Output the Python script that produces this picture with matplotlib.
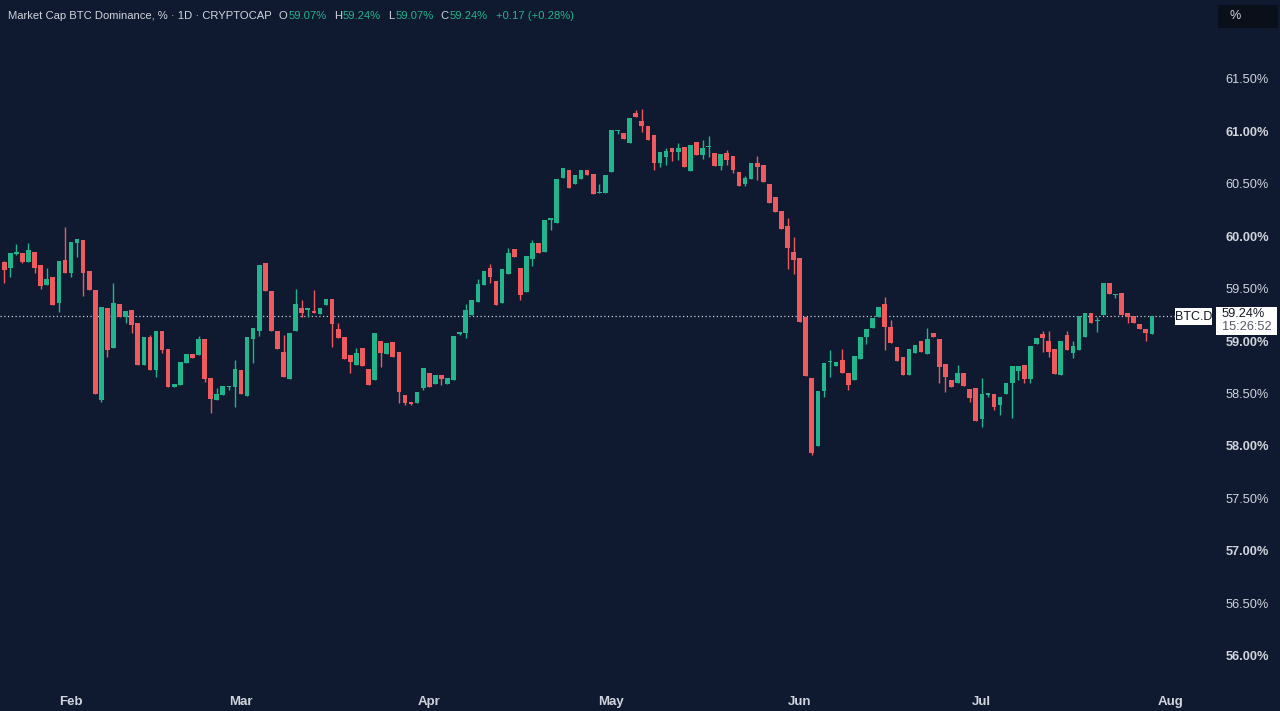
import matplotlib
matplotlib.use("Agg")
import matplotlib.pyplot as plt
import matplotlib.dates as mdates
from matplotlib.patches import Rectangle
import numpy as np
import pandas as pd

# daily candles, Jan 20 .. Jul 29
dates = pd.date_range("2025-01-20", periods=191, freq="D")

opens = [
    59.70, 59.75, 59.70, 59.83, 59.84, 59.75, 59.85, 59.72, 59.53, 59.61, 59.36,
    59.77, 59.65, 59.93, 59.96, 59.67, 59.49, 58.44, 59.31, 58.93, 59.35,
    59.23, 59.30, 59.17, 58.77, 59.04, 58.72, 59.10, 58.92, 58.56, 58.58,
    58.79, 58.88, 58.87, 59.02, 58.65, 58.44, 58.49, 58.56, 58.56, 58.72,
    58.48, 59.02, 59.10, 59.74, 59.48, 59.10, 58.90, 58.64, 59.10, 59.31,
    59.30, 59.28, 59.26, 59.34, 59.40, 59.11, 59.04, 58.87, 58.77, 58.93,
    58.73, 58.63, 59.00, 58.88, 58.99, 58.90, 58.49, 58.42, 58.41, 58.55,
    58.70, 58.59, 58.68, 58.59, 58.63, 59.07, 59.08, 59.25, 59.37, 59.53,
    59.70, 59.57, 59.36, 59.64, 59.88, 59.70, 59.47, 59.78, 59.93, 59.85,
    60.15, 60.12, 60.55, 60.63, 60.50, 60.54, 60.63, 60.59, 60.41, 60.41,
    60.61, 61.00, 60.98, 60.89, 61.17, 61.10, 61.05, 60.96, 60.70, 60.75,
    60.84, 60.80, 60.85, 60.62, 60.90, 60.77, 60.85, 60.79, 60.67, 60.79,
    60.76, 60.61, 60.50, 60.54, 60.70, 60.68, 60.50, 60.37, 60.24, 60.10,
    59.85, 59.79, 59.23, 58.65, 58.00, 58.52, 58.80, 58.76, 58.82, 58.70,
    58.63, 58.83, 59.04, 59.12, 59.23, 59.35, 59.13, 58.94, 58.85, 58.68,
    58.89, 59.00, 58.88, 59.08, 59.02, 58.78, 58.63, 58.60, 58.70, 58.54,
    58.55, 58.26, 58.49, 58.50, 58.39, 58.50, 58.60, 58.71, 58.77, 58.64,
    58.97, 59.07, 59.00, 58.92, 58.68, 59.06, 58.89, 58.91, 59.04, 59.27,
    59.19, 59.25, 59.55, 59.44, 59.46, 59.27, 59.24, 59.16, 59.11, 59.07,
]
highs = [
    59.75, 59.76, 59.84, 59.92, 59.84, 59.93, 59.85, 59.72, 59.70, 59.61, 59.76,
    60.09, 59.94, 59.97, 59.96, 59.67, 59.49, 59.32, 59.31, 59.55, 59.35,
    59.29, 59.30, 59.17, 59.04, 59.06, 59.10, 59.10, 58.92, 58.59, 58.80,
    58.88, 58.88, 59.05, 59.02, 58.65, 58.55, 58.57, 58.57, 58.82, 58.72,
    59.04, 59.12, 59.72, 59.74, 59.48, 59.10, 59.06, 59.08, 59.50, 59.39,
    59.31, 59.49, 59.31, 59.40, 59.40, 59.17, 59.04, 58.87, 58.93, 58.93,
    58.73, 59.08, 59.00, 58.98, 58.99, 58.90, 58.49, 58.42, 58.51, 58.74,
    58.70, 58.68, 58.68, 58.65, 59.05, 59.09, 59.35, 59.39, 59.59, 59.67,
    59.73, 59.57, 59.69, 59.89, 59.88, 59.70, 59.81, 59.96, 59.93, 60.15,
    60.17, 60.54, 60.65, 60.63, 60.58, 60.63, 60.63, 60.59, 60.50, 60.58,
    61.01, 61.01, 60.98, 61.12, 61.20, 61.21, 61.05, 60.96, 60.80, 60.84,
    60.84, 60.89, 60.85, 60.87, 60.90, 60.91, 60.95, 60.79, 60.78, 60.82,
    60.76, 60.61, 60.57, 60.70, 60.76, 60.68, 60.50, 60.37, 60.24, 60.17,
    59.99, 59.79, 59.23, 58.65, 58.52, 58.79, 58.91, 58.80, 58.92, 58.70,
    58.86, 59.04, 59.11, 59.22, 59.32, 59.42, 59.20, 58.94, 58.85, 58.92,
    58.96, 59.00, 59.12, 59.08, 59.02, 58.78, 58.63, 58.77, 58.70, 58.54,
    58.55, 58.65, 58.50, 58.50, 58.47, 58.60, 58.76, 58.76, 58.77, 58.95,
    59.03, 59.10, 59.10, 58.92, 59.00, 59.10, 59.00, 59.24, 59.27, 59.27,
    59.23, 59.55, 59.55, 59.45, 59.46, 59.27, 59.24, 59.16, 59.11, 59.24,
]
lows = [
    59.70, 59.55, 59.61, 59.82, 59.74, 59.75, 59.65, 59.50, 59.53, 59.34, 59.28,
    59.65, 59.61, 59.80, 59.43, 59.49, 58.50, 58.42, 58.85, 58.93, 59.23,
    59.17, 59.08, 58.77, 58.77, 58.72, 58.66, 58.89, 58.56, 58.56, 58.58,
    58.79, 58.84, 58.87, 58.61, 58.31, 58.44, 58.49, 58.53, 58.37, 58.50,
    58.48, 58.79, 59.05, 59.48, 59.10, 58.92, 58.66, 58.64, 59.10, 59.23,
    59.23, 59.27, 59.26, 59.34, 58.94, 59.03, 58.83, 58.70, 58.77, 58.76,
    58.58, 58.63, 58.75, 58.88, 58.85, 58.41, 58.39, 58.39, 58.41, 58.53,
    58.56, 58.59, 58.58, 58.59, 58.63, 59.06, 59.03, 59.25, 59.37, 59.53,
    59.55, 59.34, 59.36, 59.64, 59.80, 59.39, 59.47, 59.71, 59.84, 59.85,
    60.06, 60.12, 60.55, 60.46, 60.50, 60.54, 60.58, 60.40, 60.41, 60.41,
    60.61, 60.97, 60.92, 60.89, 61.13, 60.99, 60.91, 60.63, 60.66, 60.68,
    60.71, 60.72, 60.66, 60.62, 60.77, 60.73, 60.75, 60.67, 60.63, 60.68,
    60.60, 60.48, 60.48, 60.54, 60.53, 60.51, 60.31, 60.23, 60.07, 59.69,
    59.64, 59.18, 58.67, 57.91, 58.00, 58.47, 58.66, 58.76, 58.70, 58.53,
    58.63, 58.83, 58.97, 59.12, 59.23, 58.91, 58.98, 58.81, 58.68, 58.68,
    58.89, 58.90, 58.88, 59.04, 58.60, 58.51, 58.56, 58.60, 58.57, 58.42,
    58.24, 58.18, 58.47, 58.34, 58.30, 58.50, 58.27, 58.63, 58.60, 58.60,
    58.97, 58.90, 58.85, 58.69, 58.68, 58.91, 58.84, 58.91, 59.04, 59.17,
    59.09, 59.25, 59.45, 59.41, 59.25, 59.17, 59.17, 59.11, 59.00, 59.07,
]
closes = [
    59.75, 59.68, 59.84, 59.85, 59.75, 59.87, 59.70, 59.52, 59.59, 59.34, 59.76,
    59.65, 59.94, 59.97, 59.65, 59.49, 58.50, 59.32, 58.91, 59.36, 59.23,
    59.29, 59.15, 58.77, 59.04, 58.72, 59.10, 58.91, 58.56, 58.59, 58.80,
    58.88, 58.84, 59.02, 58.64, 58.45, 58.50, 58.57, 58.57, 58.73, 58.50,
    59.04, 59.12, 59.72, 59.48, 59.10, 58.92, 58.66, 59.08, 59.35, 59.27,
    59.31, 59.27, 59.31, 59.40, 59.16, 59.03, 58.83, 58.80, 58.89, 58.76,
    58.58, 59.08, 58.89, 58.98, 58.85, 58.51, 58.41, 58.40, 58.51, 58.74,
    58.56, 58.68, 58.64, 58.65, 59.05, 59.09, 59.30, 59.39, 59.54, 59.67,
    59.61, 59.34, 59.69, 59.84, 59.80, 59.44, 59.81, 59.93, 59.84, 60.15,
    60.17, 60.54, 60.65, 60.46, 60.58, 60.63, 60.58, 60.40, 60.42, 60.58,
    61.01, 61.01, 60.92, 61.12, 61.13, 61.05, 60.91, 60.70, 60.80, 60.81,
    60.80, 60.84, 60.66, 60.87, 60.77, 60.84, 60.86, 60.67, 60.78, 60.72,
    60.63, 60.48, 60.55, 60.70, 60.66, 60.51, 60.31, 60.23, 60.07, 59.89,
    59.77, 59.18, 58.67, 57.93, 58.52, 58.79, 58.81, 58.80, 58.70, 58.58,
    58.86, 59.04, 59.11, 59.22, 59.32, 59.13, 58.98, 58.81, 58.68, 58.92,
    58.96, 58.90, 59.02, 59.04, 58.75, 58.66, 58.56, 58.70, 58.57, 58.46,
    58.24, 58.50, 58.50, 58.37, 58.47, 58.60, 58.76, 58.76, 58.64, 58.95,
    59.03, 59.03, 58.90, 58.69, 59.00, 58.91, 58.95, 59.24, 59.27, 59.17,
    59.20, 59.55, 59.45, 59.45, 59.25, 59.23, 59.17, 59.11, 59.08, 59.24,
]

last_price = 59.24
y_ticks = [56.0, 56.5, 57.0, 57.5, 58.0, 58.5, 59.0, 59.5, 60.0, 60.5, 61.0, 61.5]

BG = "#0f1a30"
UP = "#22b48c"
DOWN = "#ef5a5e"
TXT = "#d1d4dc"
plt.rcParams["font.family"] = ["Liberation Sans", "DejaVu Sans"]

W, H = 1280, 711
fig = plt.figure(figsize=(W / 100, H / 100), dpi=100, facecolor=BG)
ax = fig.add_axes([0, 23 / H, 1212 / W, 688 / H], facecolor=BG)

x = mdates.date2num(dates)
o = np.array(opens)
c = np.array(closes)
colors = np.where(c >= o, UP, DOWN)

ax.vlines(x, lows, highs, colors=colors, linewidth=1, zorder=2)
body = np.maximum(np.abs(c - o), 0.012)
ax.bar(x, body, bottom=np.minimum(o, c), width=0.77, color=colors,
       linewidth=0, zorder=3)

# last price line
ax.axhline(last_price, color="#c8cbd4", linestyle=(0, (1, 2)), linewidth=0.9, zorder=1)

x0 = mdates.date2num(pd.Timestamp("2025-01-21"))
ax.set_xlim(x0 - 0.69, x0 + 198.9)
ax.set_ylim(55.695, 62.248)

for s in ax.spines.values():
    s.set_visible(False)
ax.grid(False)

ax.yaxis.tick_right()
ax.set_yticks(y_ticks)
ax.set_yticklabels([f"{v:.2f}%" for v in y_ticks])
ax.tick_params(axis="y", length=0, pad=9.5, labelsize=9.2, labelcolor=TXT)
for lab, v in zip(ax.get_yticklabels(), y_ticks):
    if v == int(v):
        lab.set_fontweight("bold")

ax.xaxis.set_major_locator(mdates.MonthLocator())
ax.xaxis.set_major_formatter(mdates.DateFormatter("%b"))
ax.tick_params(axis="x", length=0, pad=6, labelsize=9.5, labelcolor=TXT)
for lab in ax.get_xticklabels():
    lab.set_fontweight("bold")

def fx(px):
    return px / W

def fy(py):
    return 1 - py / H

# header, laid out piece by piece (text, colour, gap after in px)
header = [
    ("Market Cap BTC Dominance, % · 1D · CRYPTOCAP", TXT, 7),
    ("O", TXT, 1), ("59.07%", UP, 7),
    ("H", TXT, 1), ("59.24%", UP, 7),
    ("L", TXT, 1), ("59.07%", UP, 7),
    ("C", TXT, 1), ("59.24%", UP, 8),
    ("+0.17 (+0.28%)", UP, 0),
]
renderer = fig.canvas.get_renderer()
px = 8
for s, col, gap in header:
    t = fig.text(fx(px), fy(16), s, color=col, fontsize=8.1, va="center", ha="left")
    px += t.get_window_extent(renderer).width + gap

# "%" box top right
fig.add_artist(Rectangle((fx(1218), fy(28)), fx(60), 23 / H, transform=fig.transFigure,
                         facecolor="#0a0f1a", edgecolor="none"))
fig.text(fx(1229), fy(16), "%", color=TXT, fontsize=9, va="center", ha="left")

# price labels on the right
fig.add_artist(Rectangle((fx(1175), fy(325)), fx(37), 17 / H, transform=fig.transFigure,
                         facecolor="white", edgecolor="none", zorder=5))
fig.text(fx(1193.5), fy(316.5), "BTC.D", color="#131722", fontsize=9,
         va="center", ha="center", zorder=6)
fig.add_artist(Rectangle((fx(1216), fy(335)), fx(61), 28 / H, transform=fig.transFigure,
                         facecolor="white", edgecolor="none", zorder=5))
fig.text(fx(1222), fy(314), f"{last_price:.2f}%", color="#131722", fontsize=9.2,
         va="center", ha="left", zorder=6)
fig.text(fx(1222), fy(327), "15:26:52", color="#555a66", fontsize=9.2,
         va="center", ha="left", zorder=6)

fig.savefig("out.png", dpi=100, facecolor=BG)
